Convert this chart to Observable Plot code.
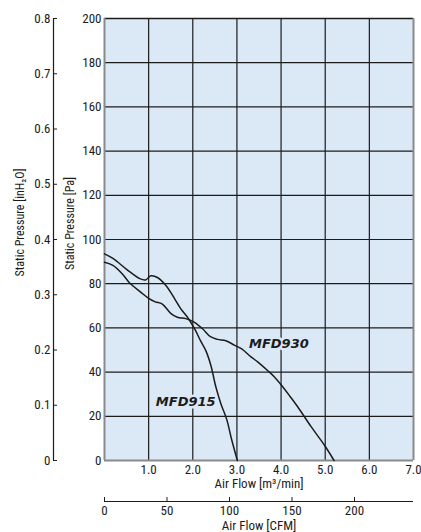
<!DOCTYPE html>
<html><head><meta charset="utf-8">
<script src="https://cdn.jsdelivr.net/npm/d3@7"></script>
<script src="https://cdn.jsdelivr.net/npm/@observablehq/plot@0.6"></script>
<style>
body{margin:0;background:#fff}
#chart{position:relative;width:421px;height:532px;overflow:hidden}
#chart svg{position:absolute;left:0;top:0}
</style></head><body><div id="chart"></div>
<script>
// ---- data ----
const mfd915Flow     = [0, 0.2, 0.5, 0.8, 0.93, 1.05, 1.2, 1.4, 1.58, 1.73, 1.88, 2.0, 2.07, 2.18, 2.3, 2.41, 2.52, 2.64, 2.77, 2.88, 3.01];
const mfd915Pressure = [93.5, 91.3, 86.5, 82.3, 81.7, 83.6, 82.8, 79.0, 73.5, 68.6, 64.8, 61.0, 58.5, 54.0, 49.5, 43.0, 33.5, 25.5, 18.5, 9.5, 0];
const mfd930Flow     = [0, 0.2, 0.4, 0.57, 0.82, 1.01, 1.15, 1.31, 1.5, 1.65, 1.84, 2.03, 2.22, 2.4, 2.56, 2.75, 2.94, 3.1, 3.32, 3.47, 3.7, 3.85, 4.04, 4.2, 4.38, 4.68, 4.98, 5.2];
const mfd930Pressure = [89.7, 88.2, 84.5, 80.3, 76.2, 73.2, 71.8, 70.8, 66.6, 64.8, 64.2, 62.6, 59.6, 56.0, 54.8, 54.2, 52.2, 50.6, 46.9, 44.6, 40.6, 37.8, 33.3, 29.1, 24.2, 15.3, 7.0, 0];
const labelNames = ["MFD915", "MFD930"];
const labelFlow = [1.84, 3.95];
const labelPressure = [26.7, 53];
const flowTicks = [1, 2, 3, 4, 5, 6, 7];
const paTicks = [0, 20, 40, 60, 80, 100, 120, 140, 160, 180, 200];
const inH2OTicks = [0, 0.1, 0.2, 0.3, 0.4, 0.5, 0.6, 0.7, 0.8];
const cfmTicks = [0, 50, 100, 150, 200];
const gridFlow = [1, 2, 3, 4, 5, 6];
const gridPa = [20, 40, 60, 80, 100, 120, 140, 160, 180];
const CFM_PER_M3MIN = 35.3147;

const mfd915 = mfd915Flow.map((f, i) => ({flow: f, pa: mfd915Pressure[i]}));
const mfd930 = mfd930Flow.map((f, i) => ({flow: f, pa: mfd930Pressure[i]}));
const labels = labelNames.map((n, i) => ({name: n, flow: labelFlow[i], pa: labelPressure[i]}));

const W = 421, H = 532;
const font = "'Roboto Condensed','Liberation Sans Narrow','Liberation Sans',Arial,sans-serif";
const bg = "#dbe8f6";
const ink = "#1c1c1c";
const baseStyle = {fontFamily: font, fontSize: "13px", color: ink, background: "transparent", overflow: "visible"};

const main = Plot.plot({
  width: W, height: H, marginTop: 18, marginLeft: 104, marginRight: 8, marginBottom: 72,
  style: baseStyle,
  x: {domain: [0, 7]},
  y: {domain: [0, 200]},
  marks: [
    Plot.frame({fill: bg, stroke: null}),
    Plot.ruleX(gridFlow, {stroke: ink, strokeWidth: 1.2}),
    Plot.ruleY(gridPa, {stroke: ink, strokeWidth: 1.2}),
    Plot.ruleY([200], {stroke: ink, strokeWidth: 1.5}),
    Plot.ruleX([0, 7], {stroke: "#8a8a8a", strokeWidth: 2}),
    Plot.ruleY([0], {stroke: "#8a8a8a", strokeWidth: 2}),
    Plot.line(mfd915, {x: "flow", y: "pa", curve: "catmull-rom", stroke: ink, strokeWidth: 1.5}),
    Plot.line(mfd930, {x: "flow", y: "pa", curve: "catmull-rom", stroke: ink, strokeWidth: 1.5}),
    Plot.text(labels, {x: "flow", y: "pa", text: "name", fontFamily: "DejaVu Sans", fontWeight: "bold", fontStyle: "italic", fontSize: 13, fill: ink, stroke: bg, strokeWidth: 5}),
    Plot.axisY({ticks: paTicks, tickSize: 0, tickPadding: 3, label: null}),
    Plot.axisX({ticks: flowTicks, tickSize: 0, tickPadding: 4, tickFormat: d => d.toFixed(1), label: null}),
    Plot.text(["Air Flow [m³/min]"], {frameAnchor: "bottom", dy: 27.5, fontSize: 13}),
    Plot.text(["Static Pressure [Pa]"], {frameAnchor: "left", textAnchor: "middle", rotate: -90, dx: -34, dy: -16, fontSize: 12}),
    Plot.text(["Static Pressure [inH₂O]"], {frameAnchor: "left", textAnchor: "middle", rotate: -90, dx: -84, dy: -17, fontSize: 12})
  ]
});

const inAxis = Plot.plot({
  width: W, height: H, marginTop: 18, marginBottom: 72, marginLeft: 53, marginRight: W - 55,
  style: baseStyle,
  x: {domain: [0, 1], axis: null},
  y: {domain: [0, 0.8]},
  marks: [
    Plot.ruleX([0], {stroke: ink, strokeWidth: 1.2}),
    Plot.axisY({ticks: inH2OTicks, tickSize: -4, tickPadding: 7, tickFormat: d => d === 0 ? "0" : d.toFixed(1), label: null})
  ]
});

const cfmAxis = Plot.plot({
  width: W, height: H, marginTop: 470, marginBottom: 31, marginLeft: 104, marginRight: 8,
  style: baseStyle,
  x: {domain: [0, 7 * CFM_PER_M3MIN]},
  y: {domain: [0, 1], axis: null},
  marks: [
    Plot.ruleY([0], {stroke: ink, strokeWidth: 1.2}),
    Plot.axisX({ticks: cfmTicks, tickSize: -4, tickPadding: 8, label: null}),
    Plot.text(["Air Flow [CFM]"], {frameAnchor: "bottom", dy: 28, fontSize: 13})
  ]
});

const root = document.getElementById("chart");
root.append(main, inAxis, cfmAxis);
</script>
</body></html>
